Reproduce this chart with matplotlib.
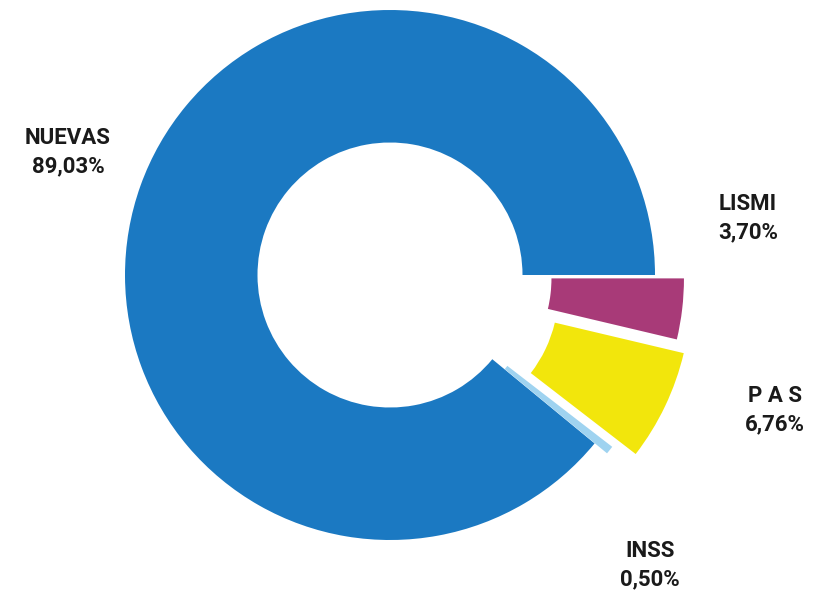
import matplotlib.pyplot as plt

# Datos del gráfico (orden antihorario desde 0 grados)
etiquetas = ['NUEVAS', 'INSS', 'P A S', 'LISMI']
valores = [89.03, 0.50, 6.76, 3.70]
textos_pct = ['89,03%', '0,50%', '6,76%', '3,70%']
colores = ['#1b79c2', '#9fd3f0', '#f2e60c', '#a83a78']
separacion = [0, 0.06, 0.15, 0.11]

fig = plt.figure(figsize=(8.16, 6.06), dpi=100)
ax = fig.add_axes([0, 0, 1, 1])

ax.pie(valores, colors=colores, explode=separacion, startangle=0,
       counterclock=True, radius=1.0,
       wedgeprops=dict(width=0.5, edgecolor='none'))

# escala: 265 px por unidad, centro en (390, 275) px
ax.set_xlim(-390 / 265, (816 - 390) / 265)
ax.set_ylim(-(606 - 275) / 265, 275 / 265)
ax.set_aspect('equal')
ax.axis('off')

# posiciones de las etiquetas (en pixeles de la imagen)
pos_etiquetas = {
    'NUEVAS': (68, 152),
    'INSS': (650, 565),
    'P A S': (775, 410),
    'LISMI': (748, 218),
}
for nombre, pct in zip(etiquetas, textos_pct):
    px, py = pos_etiquetas[nombre]
    x = (px - 390) / 265
    y = (275 - py) / 265
    ax.text(x, y, nombre + '\n' + pct, ha='center', va='center',
            fontsize=16, family='Roboto', fontweight='bold',
            color='#1a1a1a', linespacing=1.35)

fig.savefig('out.png', dpi=100)
